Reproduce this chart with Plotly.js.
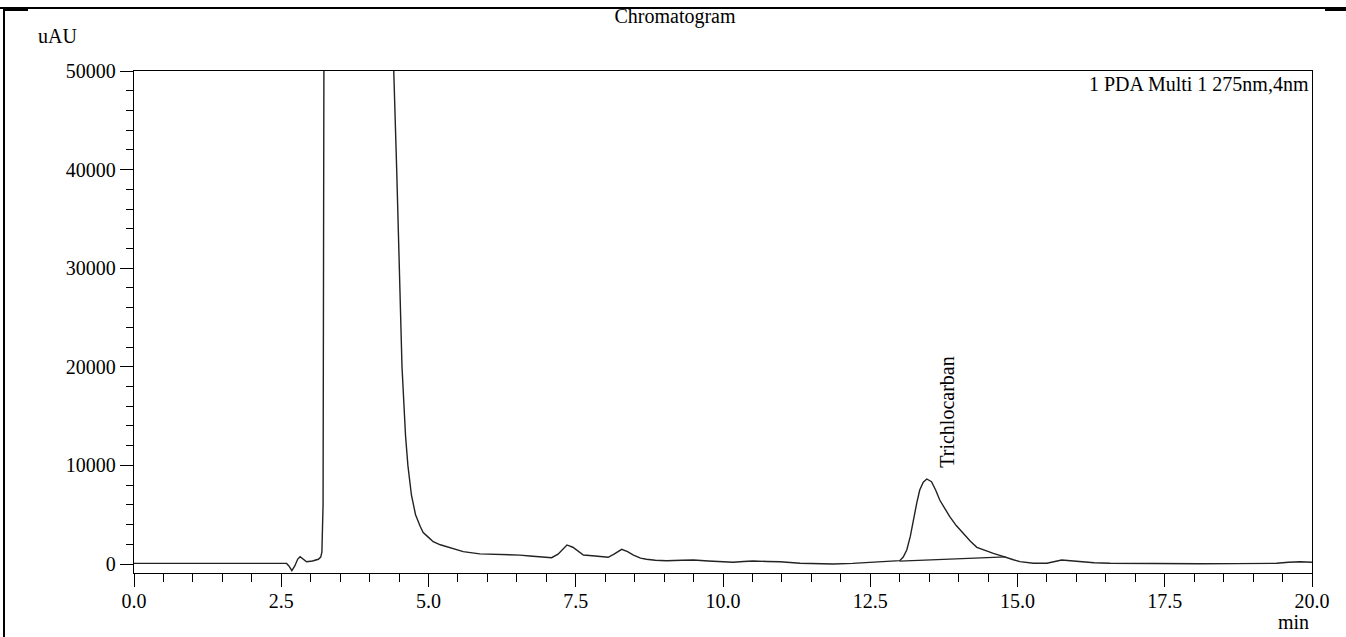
<!DOCTYPE html>
<html>
<head>
<meta charset="utf-8">
<script src="https://cdn.plot.ly/plotly-3.0.1.min.js"></script>
<style>
html,body{margin:0;padding:0;background:#fff;}
#chart{width:1346px;height:637px;}
</style>
</head>
<body>
<div id="chart"></div>
<script>
// Retention time (min) and detector response (uAU)
var timeMin = [
  0.00, 0.50, 1.00, 1.50, 2.00, 2.40, 2.59, 2.63, 2.68, 2.73, 2.78, 2.82, 2.87, 2.93, 3.03, 3.13, 3.17,
  3.19, 3.21, 3.225, 3.24, 3.40, 3.80, 4.20, 4.38, 4.41,
  4.46, 4.50, 4.55, 4.61, 4.65, 4.71, 4.78, 4.86, 4.91, 5.00, 5.08, 5.20, 5.31, 5.45, 5.59, 5.87,
  6.10, 6.33, 6.55, 6.72, 6.90, 7.09, 7.20, 7.35, 7.45, 7.63, 7.83, 7.95, 8.05, 8.15, 8.28, 8.38,
  8.48, 8.60, 8.70, 8.85, 9.04, 9.30, 9.50, 9.75, 10.00, 10.17, 10.35, 10.51, 10.75, 10.97, 11.31,
  11.60, 11.87, 12.20, 12.44, 12.67, 12.85, 13.00, 13.06, 13.12, 13.18, 13.23, 13.29, 13.34, 13.40,
  13.46, 13.54, 13.61, 13.68, 13.77, 13.85, 13.96, 14.08, 14.20, 14.31, 14.45, 14.59, 14.70, 14.82,
  14.93, 15.04, 15.15, 15.27, 15.50, 15.62, 15.75, 15.90, 16.06, 16.30, 16.57, 17.00, 17.50, 18.10,
  18.70, 19.10, 19.40, 19.60, 19.80, 20.00
];
var response = [
  60, 50, 40, 40, 30, 40, 60, -200, -680, -200, 500, 740, 500, 230, 300, 480, 700,
  1200, 6000, 50000, 100000, 220000, 300000, 220000, 70000, 50000,
  40000, 30000, 20000, 13000, 10000, 7000, 5000, 3800, 3200, 2700, 2260, 1950, 1760, 1500, 1250, 1030,
  1000, 1000, 900, 810, 740, 640, 1000, 1930, 1700, 910, 810, 760, 680, 1000, 1490, 1250,
  910, 600, 475, 380, 335, 380, 405, 300, 200, 170, 250, 300, 260, 235, 70,
  40, 0, 60, 135, 170, 220, 335, 700, 1420, 2800, 4460, 6200, 7500, 8300,
  8620, 8350, 7500, 6490, 5600, 4800, 3900, 3110, 2300, 1690, 1350, 1085, 880, 680,
  430, 235, 120, 70, 80, 250, 405, 330, 235, 130, 70, 40, 30, 30,
  40, 40, 70, 170, 235, 170
];
// Integration baseline drawn under the Trichlocarban peak
var baselineTime = [13.00, 14.80];
var baselineResp = [300, 720];

// Peak label
var peakName = "Trichlocarban";
var peakLabelTime = 13.79;
var peakLabelResp = 9530;

var xTicks = [0, 2.5, 5, 7.5, 10, 12.5, 15, 17.5, 20];
var xTickText = ["0.0", "2.5", "5.0", "7.5", "10.0", "12.5", "15.0", "17.5", "20.0"];
var yTicks = [0, 10000, 20000, 30000, 40000, 50000];
var yTickText = ["0", "10000", "20000", "30000", "40000", "50000"];

var serif = "Liberation Serif, Times New Roman, serif";
var fsize = 20;

// page-to-paper helpers (plot box: x 134..1312, y 71..573)
function px(x){ return (x - 134) / 1178; }
function py(y){ return (573 - y) / 502; }

var traces = [
  {x: timeMin, y: response, type: "scatter", mode: "lines",
   line: {color: "#222", width: 1.4}, hoverinfo: "skip", showlegend: false},
  {x: baselineTime, y: baselineResp, type: "scatter", mode: "lines",
   line: {color: "#222", width: 1.2}, hoverinfo: "skip", showlegend: false}
];

var layout = {
  width: 1346, height: 637,
  margin: {l: 134, r: 34, t: 71, b: 64, pad: 0},
  paper_bgcolor: "#fff", plot_bgcolor: "#fff",
  showlegend: false,
  title: {text: "Chromatogram", x: 675/1346, xanchor: "center", y: 1 - 16/637, yanchor: "middle",
          font: {family: serif, size: fsize, color: "#000"}},
  xaxis: {
    range: [0, 20], tickmode: "array", tickvals: xTicks, ticktext: xTickText,
    ticks: "outside", ticklen: 13, tickwidth: 1, tickcolor: "#000", ticklabelstandoff: -3,
    minor: {dtick: 0.5, tick0: 0, ticks: "outside", ticklen: 8, tickwidth: 1, tickcolor: "#000"},
    showline: true, linecolor: "#000", linewidth: 1.3, mirror: true,
    showgrid: false, zeroline: false,
    tickfont: {family: serif, size: fsize, color: "#000"}
  },
  yaxis: {
    range: [-913, 50000], tickmode: "array", tickvals: yTicks, ticktext: yTickText,
    ticks: "outside", ticklen: 13, tickwidth: 1, tickcolor: "#000",
    minor: {dtick: 2000, tick0: 0, ticks: "outside", ticklen: 7, tickwidth: 1, tickcolor: "#000"},
    showline: true, linecolor: "#000", linewidth: 1.3, mirror: true,
    showgrid: false, zeroline: false,
    tickfont: {family: serif, size: fsize, color: "#000"}
  },
  annotations: [
    {text: peakName, x: peakLabelTime, y: peakLabelResp, xref: "x", yref: "y",
     textangle: -90, xanchor: "center", yanchor: "bottom", showarrow: false,
     font: {family: serif, size: fsize, color: "#000"}},
    {text: "uAU", x: px(36), y: py(36), xref: "paper", yref: "paper",
     xanchor: "left", yanchor: "middle", showarrow: false,
     font: {family: serif, size: fsize, color: "#000"}},
    {text: "min", x: px(1311), y: py(622), xref: "paper", yref: "paper",
     xanchor: "right", yanchor: "middle", showarrow: false,
     font: {family: serif, size: fsize, color: "#000"}},
    {text: "1 PDA Multi 1 275nm,4nm", x: px(1311), y: py(84), xref: "paper", yref: "paper",
     xanchor: "right", yanchor: "middle", showarrow: false,
     font: {family: serif, size: fsize, color: "#000"}}
  ],
  shapes: [
    {type: "line", xref: "paper", yref: "paper", x0: px(0), x1: px(1346), y0: py(8), y1: py(8),
     line: {color: "#000", width: 2}},
    {type: "line", xref: "paper", yref: "paper", x0: px(4), x1: px(28), y0: py(10), y1: py(10),
     line: {color: "#000", width: 2}},
    {type: "line", xref: "paper", yref: "paper", x0: px(1325), x1: px(1346), y0: py(10), y1: py(10),
     line: {color: "#000", width: 2}},
    {type: "line", xref: "paper", yref: "paper", x0: px(4), x1: px(4), y0: py(8), y1: py(637),
     line: {color: "#000", width: 2}}
  ]
};

Plotly.newPlot("chart", traces, layout, {displayModeBar: false, staticPlot: true});
</script>
</body>
</html>
